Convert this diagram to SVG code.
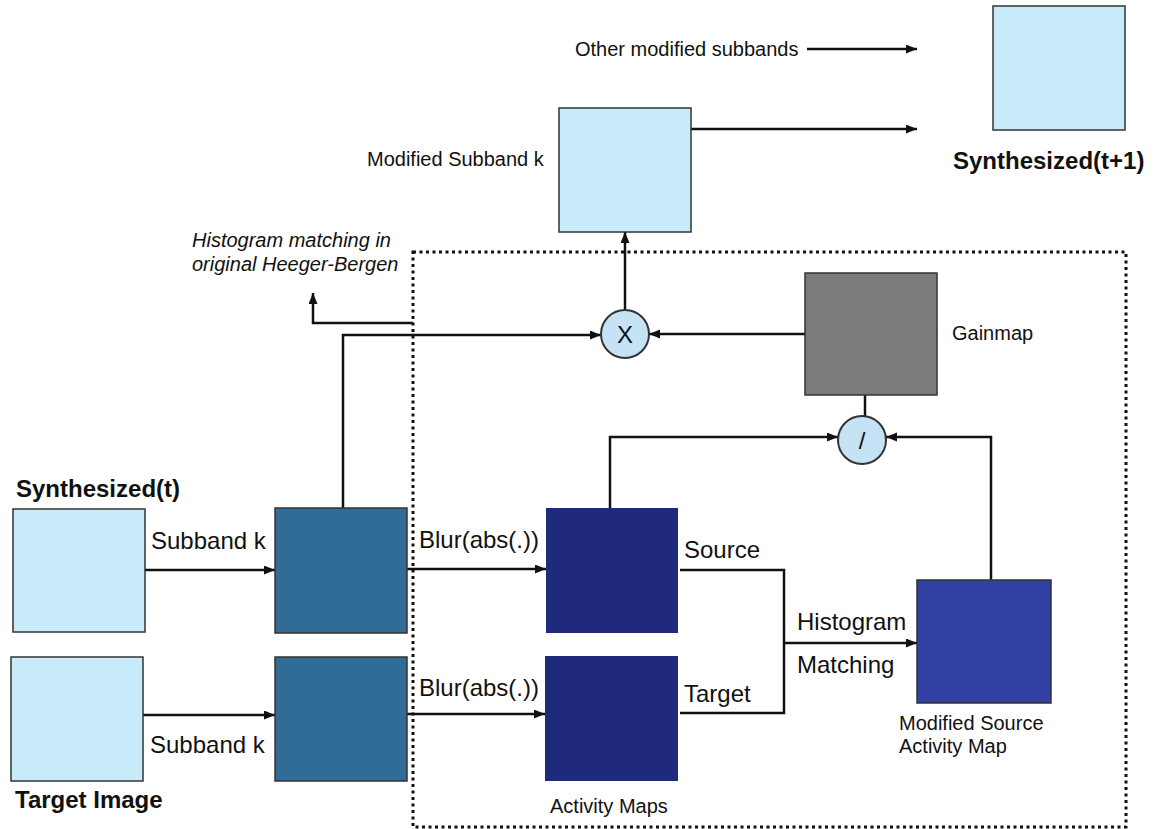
<svg xmlns="http://www.w3.org/2000/svg" width="1160" height="829" viewBox="0 0 1160 829">
<style>
text{font-family:"Liberation Sans",Arial,sans-serif;fill:#111}
.s20{font-size:20px}
.s24{font-size:24px}
.b24{font-size:24px;font-weight:bold}
.it{font-size:20px;font-style:italic}
.box{stroke:#333;stroke-width:1.5}
.light{fill:#c8ebfa}
.teal{fill:#316c97}
.navy{fill:#1f2a7c}
.msrc{fill:#3140a2}
.gain{fill:#7b7b7b}
.circ{fill:#c6e3f6;stroke:#333;stroke-width:2}
.con{fill:none;stroke:#111;stroke-width:2.5}
.arr{marker-end:url(#ah)}
.dot{fill:none;stroke:#111;stroke-width:3;stroke-dasharray:3 3.5}
</style>
<defs>
<marker id="ah" markerUnits="userSpaceOnUse" markerWidth="12" markerHeight="10" refX="11" refY="4.5" orient="auto">
<path d="M0,0 L11,4.5 L0,9 z" fill="#111"/>
</marker>
</defs>
<rect width="1160" height="829" fill="#fff"/>

<rect class="dot" x="413" y="252" width="713" height="575"/>

<g id="connectors">
<line class="con arr" x1="807" y1="49" x2="917" y2="49"/>
<line class="con arr" x1="691" y1="129" x2="917" y2="129"/>
<line class="con arr" x1="625" y1="311" x2="625" y2="232"/>
<polyline class="con arr" points="413,323 313,323 313,293"/>
<polyline class="con arr" points="343,508 343,335 601,335"/>
<line class="con arr" x1="805" y1="334" x2="649" y2="334"/>
<line class="con" x1="865" y1="395" x2="865" y2="416"/>
<polyline class="con arr" points="610,508 610,437 838,437"/>
<polyline class="con arr" points="991,580 991,437 886,437"/>
<line class="con arr" x1="145" y1="570" x2="275" y2="570"/>
<line class="con arr" x1="143" y1="715" x2="275" y2="715"/>
<line class="con arr" x1="407" y1="569" x2="546" y2="569"/>
<line class="con arr" x1="407" y1="714" x2="545" y2="714"/>
<polyline class="con" points="680,570 784,570 784,713 680,713"/>
<line class="con arr" x1="784" y1="643" x2="917" y2="643"/>
</g>

<g id="other-subbands"><text class="s20" x="575" y="56">Other modified subbands</text></g>

<g id="synth-t1">
<rect class="box light" x="993" y="6" width="132" height="124"/>
<text class="b24" x="953" y="169">Synthesized(t+1)</text>
</g>

<g id="modified-subband">
<rect class="box light" x="559" y="108" width="132" height="124"/>
<text class="s20" x="367" y="166">Modified Subband k</text>
</g>

<g id="hb-note">
<text class="it" x="192" y="247">Histogram matching in</text>
<text class="it" x="192" y="271">original Heeger-Bergen</text>
</g>

<g id="mult">
<circle class="circ" cx="625" cy="334" r="24"/>
<text class="s24" x="625" y="343" text-anchor="middle">X</text>
</g>

<g id="gainmap">
<rect class="box gain" x="805" y="273" width="132" height="122"/>
<text class="s20" x="952" y="340">Gainmap</text>
</g>

<g id="div">
<circle class="circ" cx="862" cy="440" r="24"/>
<text class="s24" x="862" y="449" text-anchor="middle">/</text>
</g>

<g id="synth-t">
<text class="b24" x="16" y="497">Synthesized(t)</text>
<rect class="box light" x="13" y="509" width="132" height="123"/>
<text class="s24" x="151" y="549">Subband k</text>
</g>

<g id="target-image">
<rect class="box light" x="11" y="657" width="132" height="124"/>
<text class="s24" x="150" y="753">Subband k</text>
<text class="b24" x="15" y="808">Target Image</text>
</g>

<g id="subband-synth"><rect class="box teal" x="275" y="508" width="132" height="125"/></g>
<g id="subband-target"><rect class="box teal" x="275" y="657" width="132" height="124"/></g>

<g id="activity-source">
<text class="s24" x="419" y="548">Blur(abs(.))</text>
<rect class="navy" x="546" y="508" width="132" height="125"/>
<text class="s24" x="684" y="558">Source</text>
</g>

<g id="activity-target">
<text class="s24" x="419" y="696">Blur(abs(.))</text>
<rect class="navy" x="545" y="656" width="133" height="125"/>
<text class="s24" x="684" y="702">Target</text>
<text class="s20" x="550" y="813">Activity Maps</text>
</g>

<g id="hist-match">
<text class="s24" x="797" y="630">Histogram</text>
<text class="s24" x="797" y="673">Matching</text>
</g>

<g id="modified-source">
<rect class="box msrc" x="917" y="580" width="134" height="123"/>
<text class="s20" x="899" y="730">Modified Source</text>
<text class="s20" x="899" y="753">Activity Map</text>
</g>
</svg>
